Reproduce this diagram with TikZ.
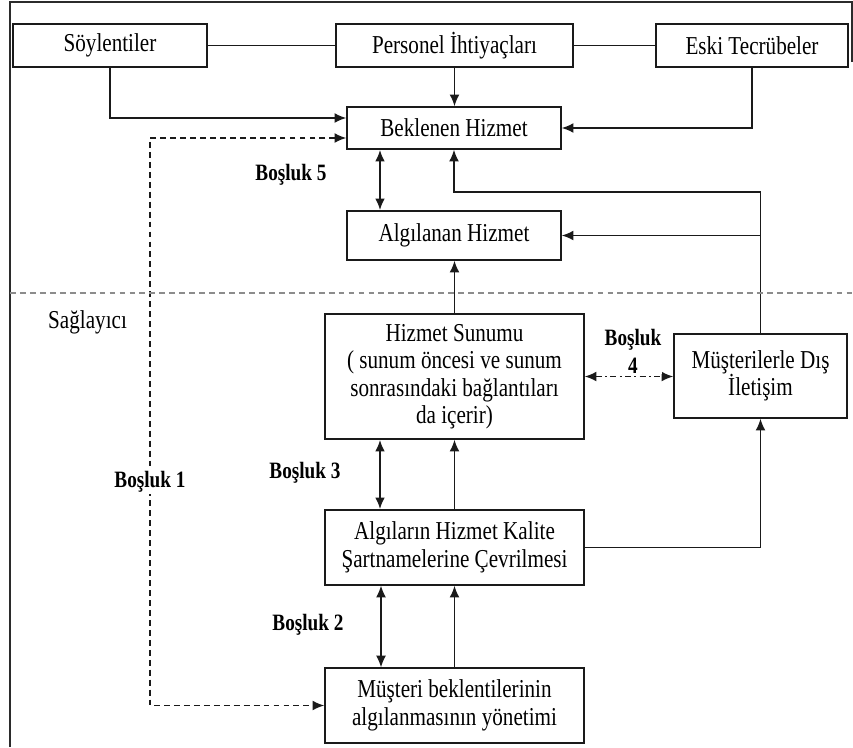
\documentclass[tikz,border=0pt]{standalone}
\usepackage{fontspec}
\setmainfont[FakeStretch=0.82]{Liberation Serif}
\usepackage{tikz}
\usetikzlibrary{arrows.meta}
\definecolor{SQInk}{HTML}{1A1A1A}
\definecolor{SQFrame}{HTML}{2B2B2B}
\definecolor{SQGrey}{HTML}{8C8C8C}
\tikzset{
  kutu/.style={draw=SQInk,line width=1.3pt,align=center,inner sep=2pt,
    font=\fontsize{22}{23.5}\selectfont},
  cizgi/.style={draw=SQInk,line width=1.3pt},
  ok/.style={cizgi,-{Latex[length=10pt,width=8.5pt]}},
  ciftok/.style={cizgi,{Latex[length=10pt,width=8.5pt]}-{Latex[length=10pt,width=8.5pt]}},
  kesik/.style={dash pattern=on 5pt off 3.5pt},
  bosluk/.style={font=\bfseries\fontsize{20}{24}\selectfont,fill=white,inner sep=1pt,align=center},
  etiket/.style={font=\fontsize{22}{23.5}\selectfont,inner sep=0pt}
}

\begin{document}
\begin{tikzpicture}[x=0.03cm,y=-0.03cm]
\path[use as bounding box] (0,0) rectangle (853,747);
\fill[white] (0,0) rectangle (853,747);
\draw[SQFrame,line width=1.2pt] (10,747) -- (10,2) -- (852,2) -- (852,62);
% ust sira
\node[kutu,minimum width=5.82cm,minimum height=1.29cm] (soy) at (110,45.5) {Söylentiler};
\node[kutu,minimum width=7.11cm,minimum height=1.29cm] (pers) at (454.5,45.5) {Personel İhtiyaçları};
\node[kutu,minimum width=5.76cm,minimum height=1.29cm] (eski) at (752,45.5) {Eski Tecrübeler};
% musteri tarafi
\node[kutu,minimum width=6.42cm,minimum height=1.26cm] (bek) at (454,128) {Beklenen Hizmet};
\node[kutu,minimum width=6.42cm,minimum height=1.47cm] (alg) at (454,235.5) {Algılanan Hizmet};
% saglayici tarafi
\node[kutu,minimum width=7.77cm,minimum height=3.75cm] (sun) at (454.5,376.5) {Hizmet Sunumu\\( sunum öncesi ve sunum\\sonrasındaki bağlantıları\\da içerir)};
\node[kutu,minimum width=5.19cm,minimum height=2.52cm] (dis) at (760.5,376) {Müşterilerle Dış\\İletişim};
\node[kutu,minimum width=7.77cm,minimum height=2.25cm] (cev) at (454.5,547.5) {Algıların Hizmet Kalite\\Şartnamelerine Çevrilmesi};
\node[kutu,minimum width=7.77cm,minimum height=2.25cm] (yon) at (454.5,705.5) {Müşteri beklentilerinin\\algılanmasının yönetimi};
\coordinate (serit) at (150,420);

% baglantilar
\draw[cizgi] (soy.east) -- (pers.west);
\draw[cizgi] (pers.east) -- (eski.west);
\draw[ok] (pers.south) -- (pers.south |- bek.north);
\draw[ok] (soy.south) |- ([yshift=0.3cm]bek.west);
\draw[ok] (eski.south) |- (bek.east);
\draw[ok] (dis.north) |- ([yshift=-1.26cm]bek.south) -- (bek.south);
\draw[ok] (dis.north |- alg.east) -- (alg.east);
\draw[ok] (sun.north) -- (sun.north |- alg.south);
\draw[ciftok,line width=2pt] ([xshift=-2.22cm]bek.south) -- ([xshift=-2.22cm]alg.north);
\draw[ciftok,dash pattern=on 5pt off 3pt on 1.5pt off 3pt] (sun.east) -- (sun.east -| dis.west);
\draw[ciftok,line width=2pt] ([xshift=-2.235cm]sun.south) -- ([xshift=-2.235cm]cev.north);
\draw[ok] (cev.north) -- (sun.south);
\draw[ok] (cev.east) -| (dis.south);
\draw[ciftok,line width=0.9pt] ([xshift=-2.205cm]cev.south) -- ([xshift=-2.205cm]yon.north);
\draw[ok] (yon.north) -- (cev.south);
\draw[ciftok,kesik] ([yshift=-0.3cm]bek.west) -| (serit) |- (yon.west);
\draw[SQGrey,kesik,line width=0.9pt] (10,293) -- (853,293);

% etiketler
\node[bosluk] (b5) at (291,175) {Boşluk 5};
\node[bosluk] (b4) at (633,351) {Boşluk\\4};
\node[bosluk] (b3) at (305,473) {Boşluk 3};
\node[bosluk] (b2) at (308,625) {Boşluk 2};
\node[bosluk] (b1) at (150,482) {Boşluk 1};
\node[etiket,anchor=west] (sag) at (48,322) {Sağlayıcı};
\end{tikzpicture}
\end{document}
